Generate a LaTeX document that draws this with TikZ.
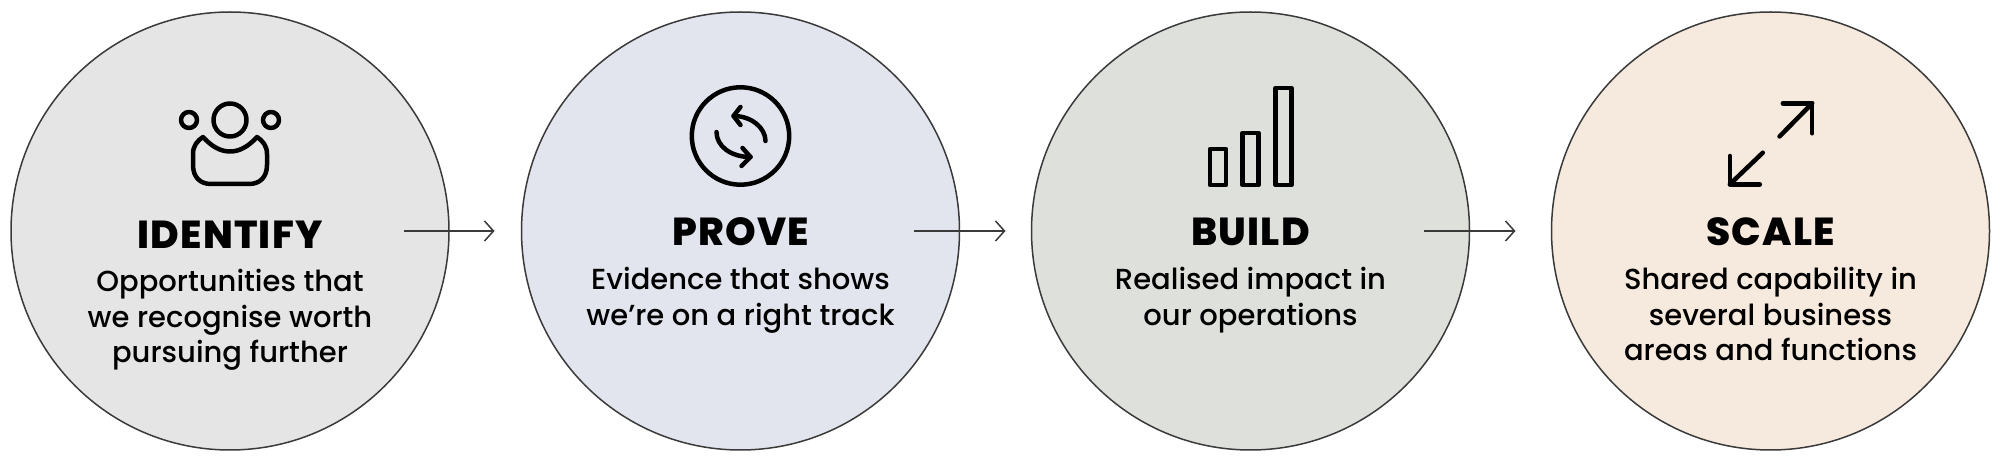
\documentclass[tikz,border=0pt]{standalone}
\usepackage{fontspec}
\setmainfont{Poppins Medium}
\newfontfamily\headfont[LetterSpace=3]{Poppins ExtraBold}
\usetikzlibrary{positioning}
\usetikzlibrary{arrows.meta}
\definecolor{idfill}{HTML}{E5E5E5}
\definecolor{prfill}{HTML}{E2E5ED}
\definecolor{bufill}{HTML}{DEE0DC}
\definecolor{scfill}{HTML}{F6E9DD}
\definecolor{linegrey}{HTML}{3A3A3A}
\tikzset{
    stage/.style={draw=linegrey,circle,line width=1.5pt,minimum size=438pt,inner sep=0pt},
    stagehead/.style={font=\headfont\fontsize{39}{39}\selectfont,anchor=base,inner sep=0pt},
    stagetext/.style={font=\fontsize{29}{35.5}\selectfont,align=center,anchor=north,inner sep=0pt},
    icon/.style={line width=4.5pt,line cap=round,line join=round},
    link/.style={draw=linegrey,line width=1.5pt,-{Straight Barb[length=9pt,width=20pt]}}
}
\begin{document}
\begin{tikzpicture}[x=1pt,y=1pt]
    \useasboundingbox (0,0) rectangle (2000,463);

    % the circles
    \node[stage,fill=idfill] (id) at (230,232) {};
    \node[stage,fill=prfill,right=71pt of id] (pr) {};
    \node[stage,fill=bufill,right=70.5pt of pr] (bu) {};
    \node[stage,fill=scfill,right=80.5pt of bu] (sc) {};

    % the headings
    \node[stagehead] (idHead) at ([yshift=-18pt]id.center) {IDENTIFY};
    \node[stagehead] (prHead) at ([yshift=-15pt]pr.center) {PROVE};
    \node[stagehead] (buHead) at ([yshift=-15pt]bu.center) {BUILD};
    \node[stagehead] (scHead) at ([yshift=-15pt]sc.center) {SCALE};

    % the texts
    \node[stagetext] (idText) at ([yshift=-38pt]id.center) {Opportunities that\\we recognise worth\\pursuing further};
    \node[stagetext] (prText) at ([yshift=-36pt]pr.center) {Evidence that shows\\we’re on a right track};
    \node[stagetext] (buText) at ([yshift=-36pt]bu.center) {Realised impact in\\our operations};
    \node[stagetext] (scText) at ([yshift=-36pt]sc.center) {Shared capability in\\several business\\areas and functions};

    % the arrows
    \coordinate (idOut) at ([xshift=173.5pt]id.center);
    \coordinate (idEnd) at ([xshift=264.5pt]id.center);
    \coordinate (prOut) at ([xshift=173.5pt]pr.center);
    \coordinate (prEnd) at ([xshift=265pt]pr.center);
    \coordinate (buOut) at ([xshift=173.5pt]bu.center);
    \coordinate (buEnd) at ([xshift=265pt]bu.center);
    \draw[link] (idOut) -- (idEnd);
    \draw[link] (prOut) -- (prEnd);
    \draw[link] (buOut) -- (buEnd);

    % the person icon
    \begin{scope}[shift={(id.center)},icon]
        \draw (0,111) circle (16.5);
        \draw (-41,111) circle (8);
        \draw (41,111) circle (8);
        \draw (-27,94) .. controls (-18,84) and (-9,79.5) .. (0,79.5)
            .. controls (9,79.5) and (18,84) .. (27,94)
            .. controls (33,90) and (37,85) .. (37,77) -- (37,66)
            .. controls (37,54) and (30,47) .. (19,47) -- (-19,47)
            .. controls (-30,47) and (-37,54) .. (-37,66) -- (-37,77)
            .. controls (-37,85) and (-33,90) .. (-27,94) -- cycle;
    \end{scope}

    % the cycle icon
    \begin{scope}[shift={(pr.center)},icon]
        \draw (0,95) circle (48.7);
        \draw (25,90) .. controls (25,103) and (11,115) .. (-7,115);
        \draw (0,124) -- (-7,115) -- (0,106);
        \draw (-24,99) .. controls (-24,85) and (-10,74) .. (10,74);
        \draw (2,83) -- (10,74) -- (1,65);
    \end{scope}

    % the bars icon
    \begin{scope}[shift={(bu.center)},icon]
        \draw (-40.5,46) rectangle (-24.5,82);
        \draw (-8,46) rectangle (8,98);
        \draw (25,46) rectangle (41,143);
    \end{scope}

    % the expand icon
    \begin{scope}[shift={(sc.center)},icon]
        \draw (9,94.5) -- (41.7,127.7);
        \draw (12.3,127.7) -- (41.7,127.7) -- (41.7,97.7);
        \draw (-7.7,78.3) -- (-40.7,46.7);
        \draw (-40.7,75) -- (-40.7,46.7) -- (-10.7,46.7);
    \end{scope}
\end{tikzpicture}
\end{document}
